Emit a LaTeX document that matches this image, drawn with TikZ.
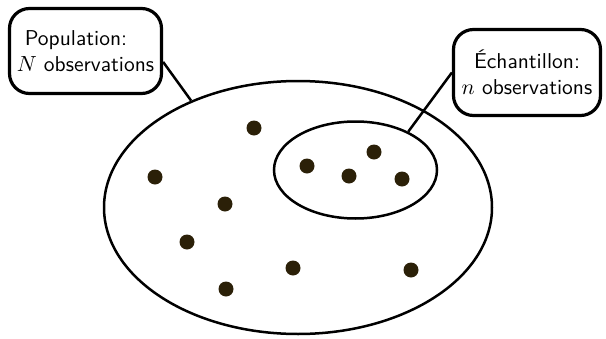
\documentclass[tikz,border=0pt]{standalone}
\usetikzlibrary{shapes.geometric}
\definecolor{dotc}{RGB}{43,32,8}
\begin{document}
\begin{tikzpicture}[x=0.5pt,y=-0.5pt,
  labelbox/.style={draw, line width=1.6pt, rounded corners=10pt, font=\sffamily\fontsize{10.75}{13}\selectfont, inner sep=0pt},
  region/.style={draw, ellipse, line width=1.25pt, inner sep=0pt},
  pt/.style={circle, fill=dotc, inner sep=0pt, minimum size=7.5pt},
  link/.style={line width=1.25pt}]
\useasboundingbox (0,0) rectangle (606,338);
\node[region, minimum width=194pt, minimum height=126.5pt] (big) at (298,207.5) {};
\node[region, minimum width=81.5pt, minimum height=48.5pt] (small) at (355.5,170) {};
\node[labelbox, minimum width=76pt, minimum height=42.5pt, align=left] (pop) at (85.5,51) {\hspace*{4pt}Population:\\$N$ observations};
\node[labelbox, minimum width=73.5pt, minimum height=43pt, align=center] (ech) at (527,72.5) {Échantillon:\\$n$ observations};
\draw[link] (pop.-8.8) -- (big.135.7);
\draw[link] (ech.west) -- (small.36.2);
\node[pt] (d1) at (254,128) {};
\node[pt] (d2) at (155,177) {};
\node[pt] (d3) at (225,204) {};
\node[pt] (d4) at (187,242) {};
\node[pt] (d5) at (226,289) {};
\node[pt] (d6) at (293,268) {};
\node[pt] (d7) at (411,270) {};
\node[pt] (d8) at (307,166) {};
\node[pt] (d9) at (349,176) {};
\node[pt] (d10) at (374,152) {};
\node[pt] (d11) at (402,179) {};
\end{tikzpicture}
\end{document}
